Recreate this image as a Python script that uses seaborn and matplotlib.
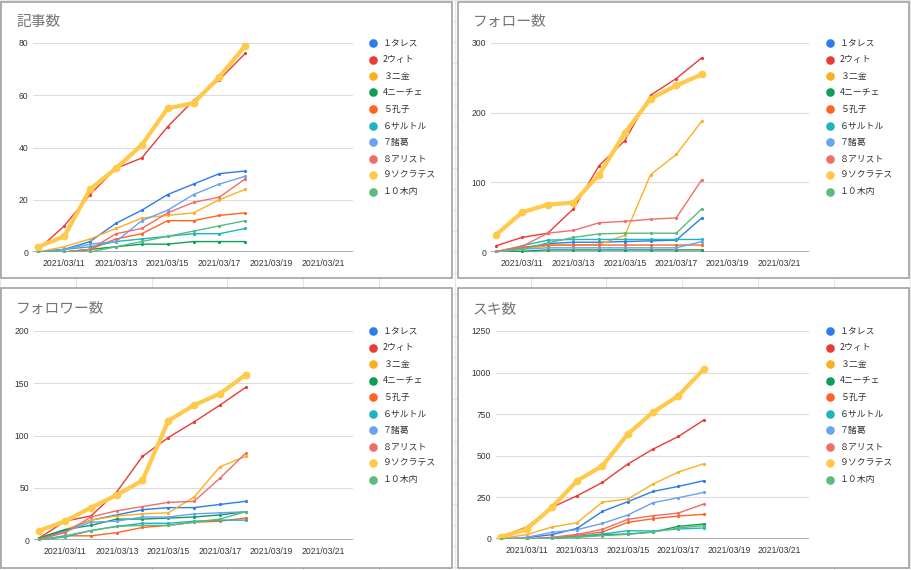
import matplotlib
matplotlib.use("Agg")
import matplotlib.pyplot as plt
import matplotlib.dates as mdates
from matplotlib.lines import Line2D
from matplotlib.patches import Rectangle
import seaborn as sns
import pandas as pd
import numpy as np

sns.set_style("white")
plt.rcParams['font.family'] = ['Liberation Sans', 'Noto Sans CJK JP', 'DejaVu Sans']

# ---------------- data ----------------
dates = pd.date_range("2021-03-10", "2021-03-18", freq="D")
names = ['１タレス', '2ウィト', '３二金', '4ニーチェ', '５孔子',
         '６サルトル', '７諸葛', '８アリスト', '９ソクラテス', '１０木内']
colors = ['#2b7de9', '#ea3b35', '#fbb022', '#0f9d58', '#ff6421',
          '#1fb5bf', '#6aa1f2', '#f06e6a', '#ffc94a', '#5abb7d']

titles = ['記事数', 'フォロー数', 'フォロワー数', 'スキ数']

kiji = [
    [0, 1, 4, 11, 16, 22, 26, 30, 31],
    [1, 10, 22, 32, 36, 48, 58, 66, 76],
    [0, 2, 5, 9, 13, 14, 15, 20, 24],
    [0, 0, 1, 2, 3, 3, 4, 4, 4],
    [0, 0, 1, 5, 7, 12, 12, 14, 15],
    [0, 1, 2, 4, 5, 6, 7, 7, 9],
    [0, 1, 3, 4, 12, 16, 22, 26, 29],
    [0, 0, 1, 7, 9, 15, 19, 21, 28],
    [2, 6, 24, 32, 41, 55, 57, 67, 79],
    [0, 0, 0, 2, 4, 6, 8, 10, 12],
]
follow = [
    [0, 5, 12, 14, 14, 15, 16, 17, 49],
    [9, 21, 27, 62, 124, 160, 225, 249, 279],
    [1, 4, 9, 10, 11, 24, 111, 140, 188],
    [0, 1, 3, 3, 3, 3, 3, 3, 3],
    [0, 7, 10, 10, 10, 10, 10, 10, 10],
    [0, 9, 17, 18, 18, 18, 18, 18, 18],
    [0, 4, 6, 6, 6, 6, 6, 6, 15],
    [1, 8, 27, 31, 42, 44, 47, 49, 104],
    [25, 57, 68, 71, 111, 171, 220, 239, 255],
    [0, 4, 13, 21, 26, 27, 27, 27, 62],
]
follower = [
    [1, 9, 19, 24, 29, 31, 31, 34, 37],
    [2, 18, 23, 46, 80, 98, 113, 129, 146],
    [2, 10, 19, 23, 25, 26, 41, 70, 80],
    [2, 10, 14, 20, 20, 21, 22, 24, 27],
    [0, 4, 4, 7, 12, 14, 17, 18, 21],
    [0, 3, 9, 13, 16, 16, 18, 19, 19],
    [0, 8, 17, 18, 22, 22, 25, 26, 27],
    [1, 7, 22, 28, 32, 36, 37, 59, 83],
    [9, 18, 31, 43, 57, 114, 129, 140, 158],
    [0, 4, 9, 13, 14, 14, 17, 20, 27],
]
suki = [
    [0, 8, 26, 64, 166, 224, 286, 316, 350],
    [14, 72, 190, 260, 340, 450, 540, 616, 714],
    [4, 26, 72, 98, 222, 240, 330, 402, 452],
    [0, 0, 4, 14, 26, 30, 42, 76, 90],
    [0, 0, 6, 22, 42, 100, 122, 138, 148],
    [0, 0, 4, 14, 30, 50, 48, 60, 66],
    [0, 10, 40, 56, 94, 144, 218, 248, 280],
    [0, 2, 10, 28, 58, 118, 140, 156, 210],
    [14, 58, 190, 350, 440, 630, 762, 860, 1020],
    [0, 0, 4, 10, 20, 28, 42, 66, 80],
]
metrics = [kiji, follow, follower, suki]
yticks = [[0, 20, 40, 60, 80], [0, 100, 200, 300],
          [0, 50, 100, 150, 200], [0, 250, 500, 750, 1000, 1250]]
xtick_dates = pd.to_datetime(["2021-03-11", "2021-03-13", "2021-03-15",
                              "2021-03-17", "2021-03-19", "2021-03-21"])

# ---------------- layout (pixels) ----------------
W, H = 912, 570
fig = plt.figure(figsize=(W / 100, H / 100), dpi=100)
fig.patch.set_facecolor('white')

def fx(px):
    return px / W

def fy(py):
    return 1 - py / H

# faint spreadsheet grid behind
for gx in np.arange(0, W, 75.8):
    fig.add_artist(Line2D([fx(gx), fx(gx)], [0, 1], color='#e6e6e6', lw=0.8, zorder=0))
for gy in np.arange(0, H, 21):
    fig.add_artist(Line2D([0, 1], [fy(gy), fy(gy)], color='#e6e6e6', lw=0.8, zorder=0))

panels = [
    # border (l, t, r, b), axes (l, t, r, b), title (x, y), legend (x, y)
    dict(border=(1.5, 1.5, 452, 278), axes=(33, 43, 353, 252), title=(16, 22), leg=(373, 43)),
    dict(border=(458, 1.5, 909, 278), axes=(491, 43, 809, 252), title=(473, 22), leg=(830, 43)),
    dict(border=(1.5, 288, 452, 568), axes=(34, 331, 353, 540), title=(16, 309), leg=(373, 331)),
    dict(border=(458, 288, 909, 568), axes=(496, 331, 809, 539), title=(473, 309), leg=(830, 331)),
]

x0 = pd.Timestamp("2021-03-10")
xlim = (x0 - pd.Timedelta(hours=5), x0 + pd.Timedelta(hours=int(12.17 * 24)))

for p, title, data, yt in zip(panels, titles, metrics, yticks):
    bl, bt, br, bb = p['border']
    fig.add_artist(Rectangle((fx(bl), fy(bb)), fx(br) - fx(bl), fy(bt) - fy(bb),
                             transform=fig.transFigure, facecolor='white',
                             edgecolor='#9a9a9a', lw=1.1, zorder=1))
    al, at, ar, ab = p['axes']
    ax = fig.add_axes([fx(al), fy(ab), fx(ar) - fx(al), fy(at) - fy(ab)])
    ax.set_facecolor('none')
    ax.set_zorder(2)

    for i, (name, vals) in enumerate(zip(names, data)):
        thick = (i == 8)
        sns.lineplot(x=dates, y=vals, ax=ax, color=colors[i],
                     linewidth=3.0 if thick else 1.0,
                     marker='o', markersize=5.6 if thick else 2.3,
                     markeredgewidth=0, legend=False, zorder=3 + i)

    ax.set_xlim(xlim)
    ax.set_ylim(0, yt[-1])
    ax.set_yticks(yt)
    ax.set_yticklabels([str(v) for v in yt])
    ax.set_xticks(xtick_dates)
    ax.xaxis.set_major_formatter(mdates.DateFormatter('%Y/%m/%d'))
    ax.tick_params(axis='both', length=0, labelsize=6.2, labelcolor='#333333')
    ax.tick_params(axis='x', pad=5)
    ax.tick_params(axis='y', pad=3.5)
    ax.set_xlabel('')
    ax.set_ylabel('')
    for s in ['top', 'right', 'left', 'bottom']:
        ax.spines[s].set_visible(False)
    for v in yt[1:]:
        ax.axhline(v, color='#dcdcdc', lw=0.8, zorder=1)
    ax.axhline(0, color='#9e9e9e', lw=1.2, zorder=2)

    tx, ty = p['title']
    fig.text(fx(tx), fy(ty), title, fontsize=10.6, color='#757575',
             ha='left', va='center', family=['Noto Sans CJK JP', 'DejaVu Sans'], zorder=5)

    lx, ly = p['leg']
    for i, name in enumerate(names):
        yy = ly + i * 16.5
        fig.add_artist(Line2D([fx(lx)], [fy(yy)], marker='o', markersize=6.2,
                              color=colors[i], markeredgewidth=0, linestyle='',
                              transform=fig.transFigure, zorder=5))
        fig.text(fx(lx + 10), fy(yy), name, fontsize=6.4, color='#333333',
                 ha='left', va='center', family=['Noto Sans CJK JP', 'DejaVu Sans'], zorder=5)

fig.savefig('out.png', dpi=100, facecolor='white')
